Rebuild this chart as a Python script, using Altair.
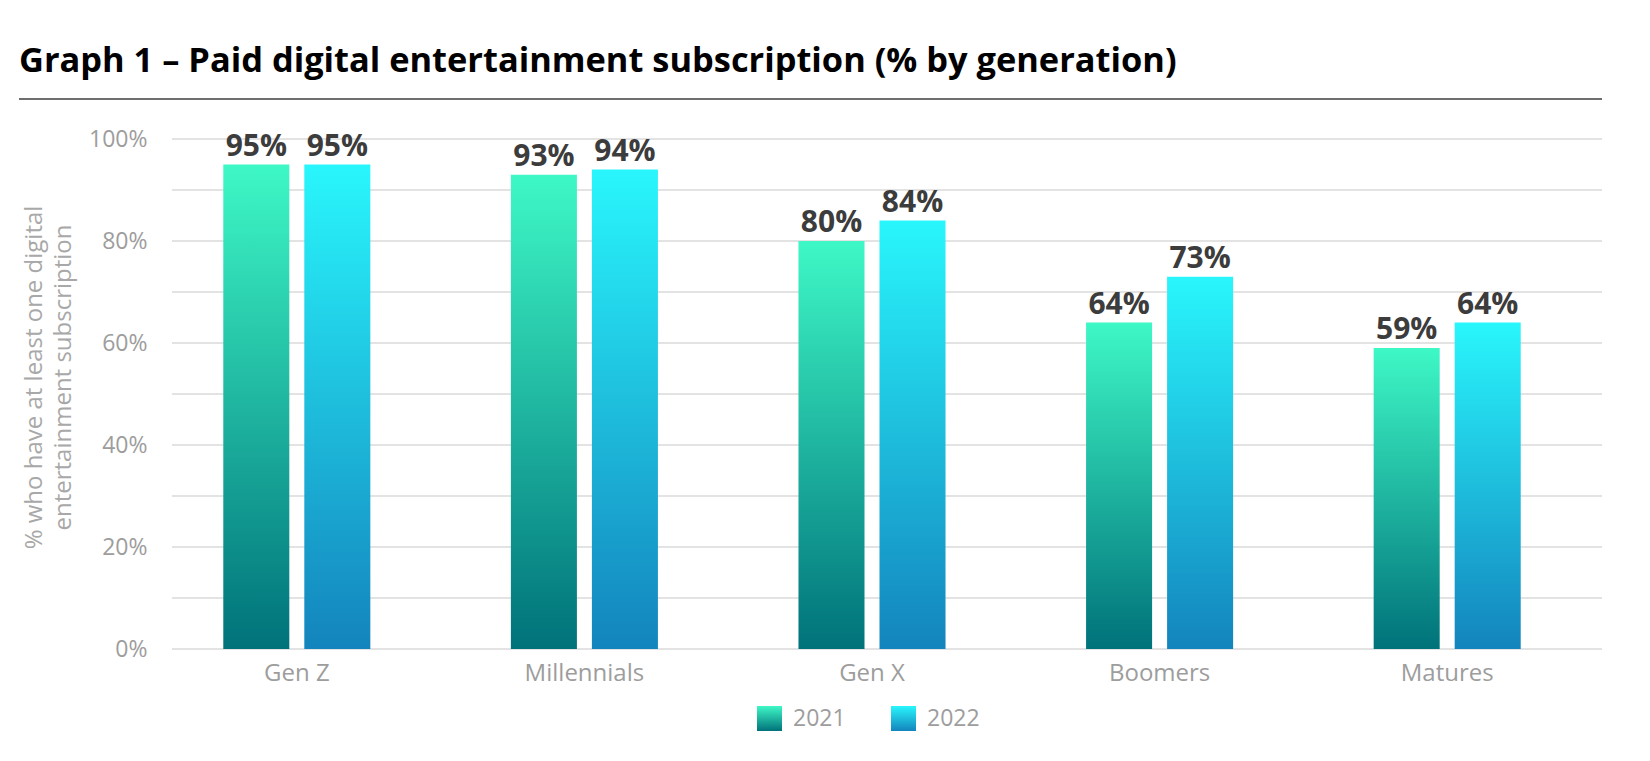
import altair as alt
import pandas as pd

# ---- data ----
title_text = "Graph 1 – Paid digital entertainment subscription (% by generation)"
generations = ["Gen Z", "Millennials", "Gen X", "Boomers", "Matures"]
years = ["2021", "2022"]
values_2021 = [95, 93, 80, 64, 59]
values_2022 = [95, 94, 84, 73, 64]
y_label_ticks = [0, 20, 40, 60, 80, 100]
grid_ticks = [0, 10, 20, 30, 40, 50, 60, 70, 80, 90, 100]
y_title = ["% who have at least one digital", "entertainment subscription"]

rows = []
for g, a, b in zip(generations, values_2021, values_2022):
    rows.append({"generation": g, "year": years[0], "value": a, "label": f"{a}%"})
    rows.append({"generation": g, "year": years[1], "value": b, "label": f"{b}%"})
df = pd.DataFrame(rows)
grid_df = pd.DataFrame({"v": grid_ticks})

FONT = "Open Sans"
LABEL_GREY = "#9d9d9d"

grad = {
    "2021": {"gradient": "linear", "x1": 0, "y1": 0, "x2": 0, "y2": 1,
             "stops": [{"offset": 0, "color": "#3ef8c6"}, {"offset": 1, "color": "#00727a"}]},
    "2022": {"gradient": "linear", "x1": 0, "y1": 0, "x2": 0, "y2": 1,
             "stops": [{"offset": 0, "color": "#29f6fc"}, {"offset": 1, "color": "#1384bd"}]},
}

x_enc = alt.X("generation:N", sort=generations, title=None,
              scale=alt.Scale(paddingInner=0.4887, paddingOuter=0.2444),
              axis=alt.Axis(labelAngle=0, labelFontSize=24, labelColor=LABEL_GREY,
                            labelFont=FONT, domain=False, ticks=False, tickSize=0,
                            labelPadding=12, grid=False))
xoff_enc = alt.XOffset("year:N", sort=years, scale=alt.Scale(paddingInner=0.185, paddingOuter=0))
y_scale = alt.Scale(domain=[0, 100], nice=False)

y_axis = alt.Axis(values=y_label_ticks, labelExpr="datum.value + '%'",
                  labelFontSize=23, labelColor=LABEL_GREY, labelFont=FONT,
                  domain=False, ticks=False, tickSize=0, grid=False,
                  labelPadding=6,
                  titleFont=FONT, titleFontSize=24, titleFontWeight="normal",
                  titleColor="#a8a8a8", titleLineHeight=29,
                  titleAngle=-90, titleX=-119, titleY=238,
                  titleAlign="center", titleBaseline="middle")

grid = alt.Chart(grid_df).mark_rule(color="#dadada", strokeWidth=1.6).encode(
    y=alt.Y("v:Q", scale=y_scale, title=y_title, axis=y_axis),
    x=alt.value(19), x2=alt.value(1449),
)

bars = alt.Chart(df).mark_bar().encode(
    x=x_enc,
    xOffset=xoff_enc,
    y=alt.Y("value:Q", scale=y_scale, title=y_title, axis=y_axis),
    fill=alt.condition(alt.datum.year == years[0], alt.value(grad["2021"]), alt.value(grad["2022"])),
)

labels = alt.Chart(df).mark_text(font=FONT, fontSize=30, fontWeight="bold", color="#3c3c3c",
                                 baseline="alphabetic", dy=-9).encode(
    x=x_enc, xOffset=xoff_enc,
    y=alt.Y("value:Q", scale=y_scale, title=y_title, axis=y_axis),
    text="label:N",
)

title_df = pd.DataFrame({"t": [title_text]})
title = alt.Chart(title_df).mark_text(font=FONT, fontSize=34.4, fontWeight="bold", color="#000000",
                                      align="left", baseline="alphabetic").encode(
    x=alt.value(-134), y=alt.value(-67), text="t:N")

rule = alt.Chart(title_df).mark_rule(color="#6e6e6e", strokeWidth=2).encode(
    x=alt.value(-134), x2=alt.value(1449), y=alt.value(-40))

legend_layers = []
swatch_x = [604, 738]
for i, yr in enumerate(years):
    ldf = pd.DataFrame({"year": [yr]})
    legend_layers.append(
        alt.Chart(ldf).mark_rect(fill=grad[yr]).encode(
            x=alt.value(swatch_x[i]), x2=alt.value(swatch_x[i] + 25),
            y=alt.value(567), y2=alt.value(592)))
    legend_layers.append(
        alt.Chart(ldf).mark_text(font=FONT, fontSize=23, color=LABEL_GREY,
                                 align="left", baseline="middle").encode(
            x=alt.value(swatch_x[i] + 36), y=alt.value(580), text="year:N"))

chart = alt.layer(grid, bars, labels, title, rule, *legend_layers).properties(
    width=1438, height=510,
    padding={"left": 145, "top": 131, "right": 30, "bottom": 100},
    autosize=alt.AutoSizeParams(type="none"),
    background="white",
).configure_view(stroke=None)

chart.save("out.html", embed_options={"renderer": "svg", "actions": False})
